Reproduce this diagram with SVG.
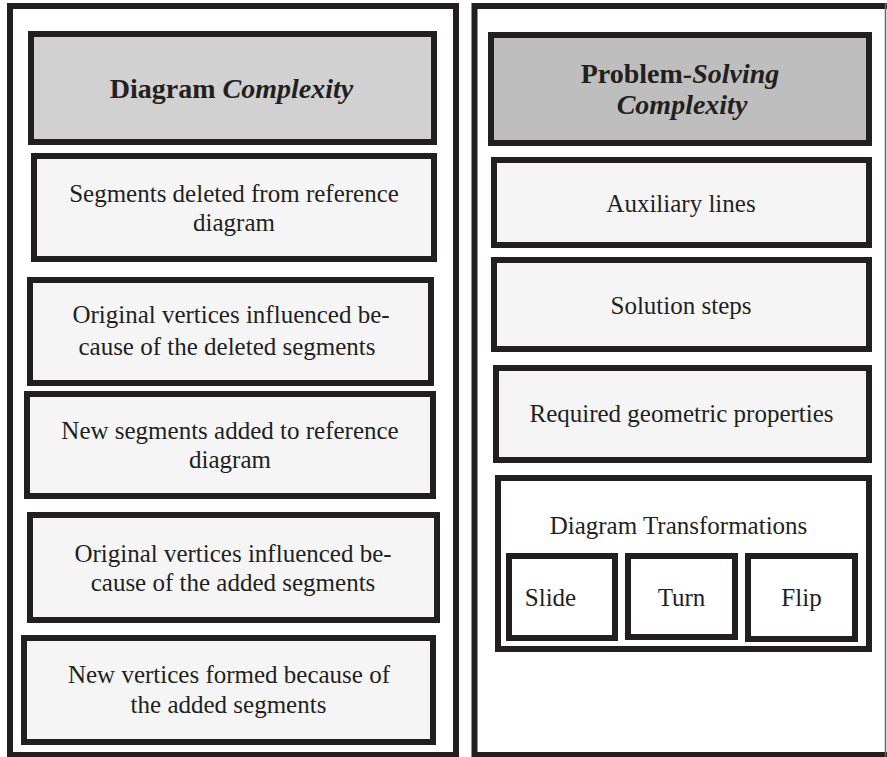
<svg xmlns="http://www.w3.org/2000/svg" width="887" height="757" viewBox="0 0 887 757">
<style>
.frame{fill:none;stroke:#231f20;stroke-width:6}
.box{fill:#f5f5f5;stroke:#231f20;stroke-width:6}
.wbox{fill:#ffffff;stroke:#231f20;stroke-width:6}
.hl{fill:#d1d1d1;stroke:#231f20;stroke-width:6}
.hr{fill:#bebebe;stroke:#231f20;stroke-width:6}
</style>
<rect width="887" height="757" fill="#ffffff"/>
<g id="left-panel">
<rect class="frame" x="10" y="6" width="446" height="749"/>
</g>
<g id="right-panel">
<path class="frame" d="M888,6 H474.5 V755 H888"/>
<line x1="885.5" y1="3" x2="885.5" y2="757" stroke="#666" stroke-width="1.5"/>
</g>
<g id="diagram-complexity">
<rect class="hl" x="31" y="34" width="403" height="108"/>
<text x="231.5" y="98" font-family="Liberation Serif" font-size="28" font-weight="bold" fill="#231f20" text-anchor="middle">Diagram <tspan font-style="italic">Complexity</tspan></text>
</g>
<g id="segments-deleted">
<rect class="box" x="34" y="156" width="400" height="103"/>
<text x="234" y="202" font-family="Liberation Serif" font-size="25" fill="#231f20" text-anchor="middle">Segments deleted from reference</text>
<text x="234" y="231" font-family="Liberation Serif" font-size="25" fill="#231f20" text-anchor="middle">diagram</text>
</g>
<g id="vertices-deleted">
<rect class="box" x="30" y="280" width="401" height="103"/>
<text x="231" y="323" font-family="Liberation Serif" font-size="25" fill="#231f20" text-anchor="middle">Original vertices influenced be-</text>
<text x="227" y="355" font-family="Liberation Serif" font-size="25" fill="#231f20" text-anchor="middle">cause of the deleted segments</text>
</g>
<g id="segments-added">
<rect class="box" x="27" y="394" width="406" height="102"/>
<text x="230" y="439" font-family="Liberation Serif" font-size="25" fill="#231f20" text-anchor="middle">New segments added to reference</text>
<text x="230" y="468" font-family="Liberation Serif" font-size="25" fill="#231f20" text-anchor="middle">diagram</text>
</g>
<g id="vertices-added">
<rect class="box" x="30" y="515" width="407" height="105"/>
<text x="233" y="562" font-family="Liberation Serif" font-size="25" fill="#231f20" text-anchor="middle">Original vertices influenced be-</text>
<text x="233" y="591" font-family="Liberation Serif" font-size="25" fill="#231f20" text-anchor="middle">cause of the added segments</text>
</g>
<g id="new-vertices">
<rect class="box" x="24" y="638" width="409" height="104"/>
<text x="229" y="683" font-family="Liberation Serif" font-size="25" fill="#231f20" text-anchor="middle">New vertices formed because of</text>
<text x="228.5" y="713" font-family="Liberation Serif" font-size="25" fill="#231f20" text-anchor="middle">the added segments</text>
</g>
<g id="problem-solving-complexity">
<rect class="hr" x="491" y="35" width="378" height="108"/>
<text x="680" y="83" font-family="Liberation Serif" font-size="28" font-weight="bold" fill="#231f20" text-anchor="middle">Problem-<tspan font-style="italic">Solving</tspan></text>
<text x="682" y="114" font-family="Liberation Serif" font-size="28" font-weight="bold" font-style="italic" fill="#231f20" text-anchor="middle">Complexity</text>
</g>
<g id="auxiliary-lines">
<rect class="box" x="494" y="160" width="375" height="85"/>
<text x="681" y="212" font-family="Liberation Serif" font-size="25" fill="#231f20" text-anchor="middle">Auxiliary lines</text>
</g>
<g id="solution-steps">
<rect class="box" x="494" y="260" width="375" height="89"/>
<text x="681" y="314" font-family="Liberation Serif" font-size="25" fill="#231f20" text-anchor="middle">Solution steps</text>
</g>
<g id="geometric-properties">
<rect class="box" x="496" y="368" width="373" height="92"/>
<text x="681.5" y="422" font-family="Liberation Serif" font-size="25" fill="#231f20" text-anchor="middle">Required geometric properties</text>
</g>
<g id="diagram-transformations">
<rect class="wbox" x="498" y="478" width="371" height="171"/>
<text x="678.5" y="534" font-family="Liberation Serif" font-size="25" fill="#231f20" text-anchor="middle">Diagram Transformations</text>
</g>
<g id="slide">
<rect class="wbox" x="509" y="556" width="106" height="82"/>
<text x="550.5" y="606" font-family="Liberation Serif" font-size="25" fill="#231f20" text-anchor="middle">Slide</text>
</g>
<g id="turn">
<rect class="wbox" x="628" y="556" width="107" height="81"/>
<text x="681.5" y="606" font-family="Liberation Serif" font-size="25" fill="#231f20" text-anchor="middle">Turn</text>
</g>
<g id="flip">
<rect class="wbox" x="748" y="556" width="107" height="83"/>
<text x="801.5" y="606" font-family="Liberation Serif" font-size="25" fill="#231f20" text-anchor="middle">Flip</text>
</g>
<g id="connectors"></g>
</svg>
